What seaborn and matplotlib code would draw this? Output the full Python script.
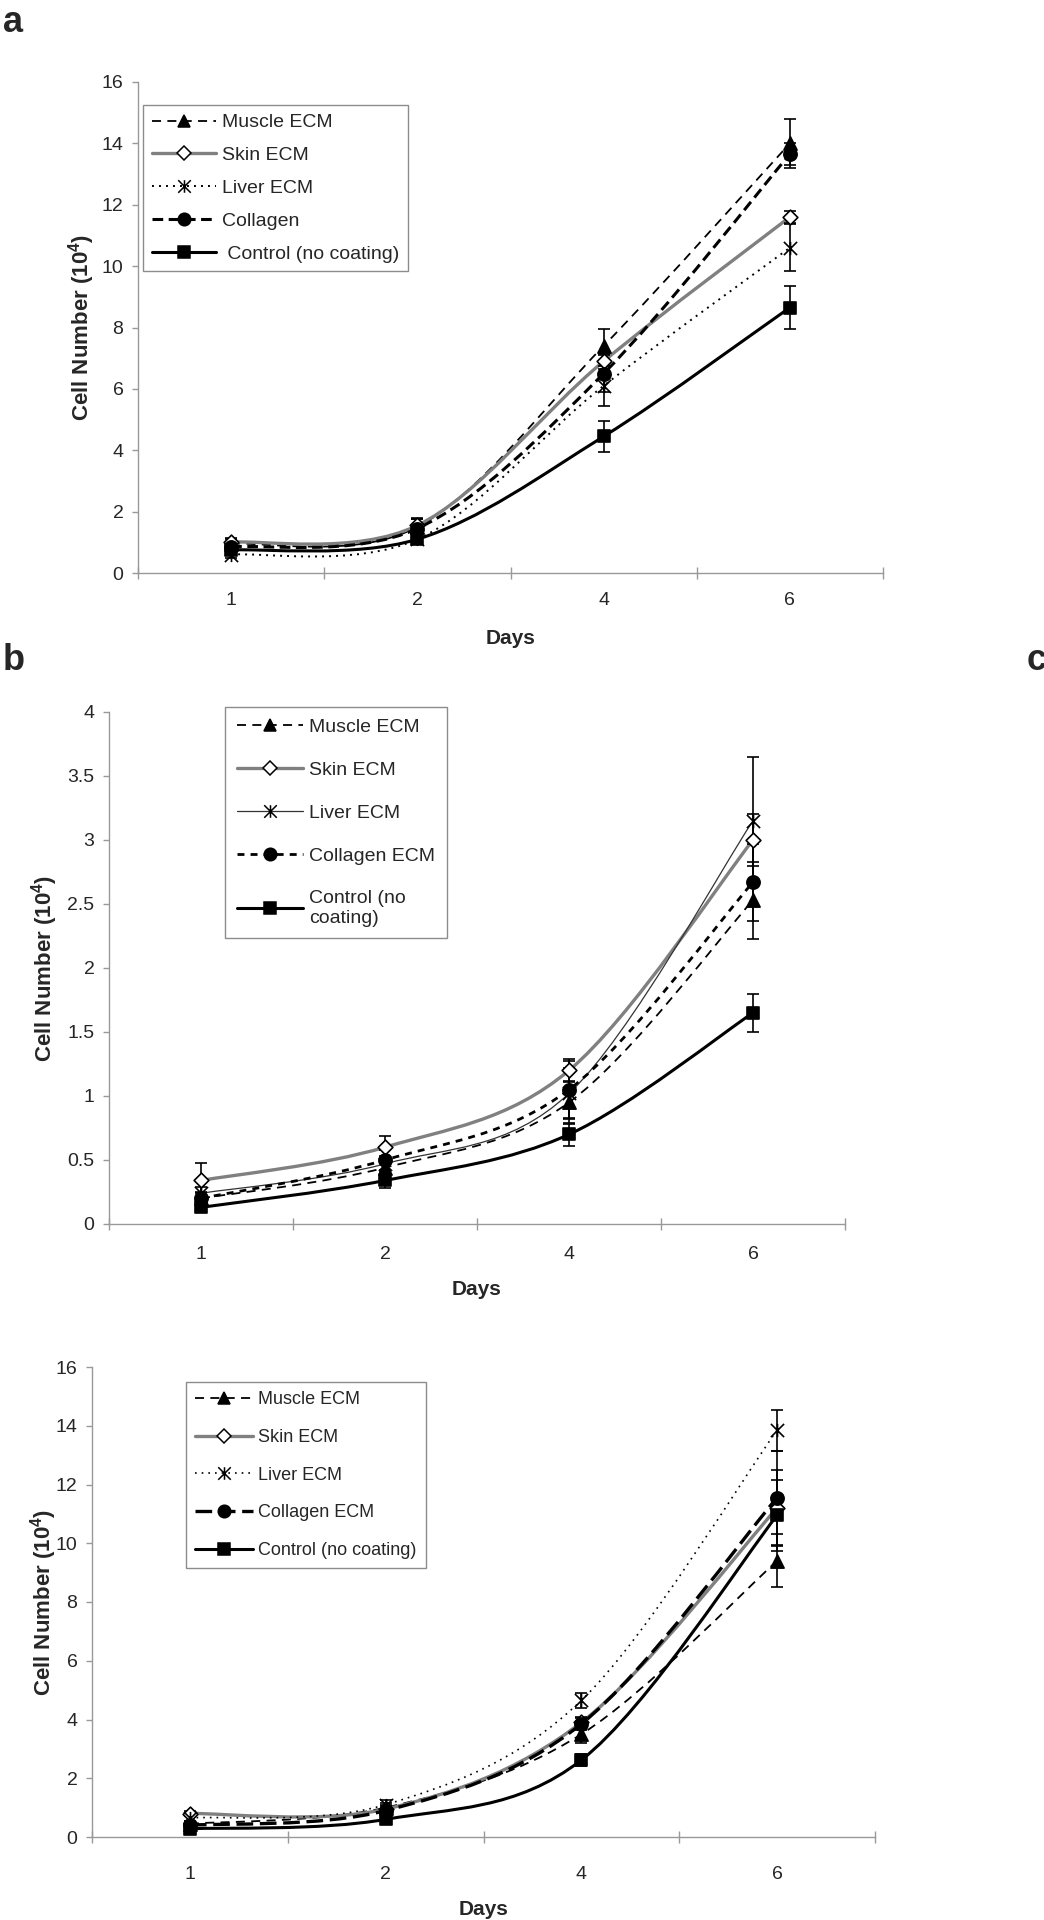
import numpy as np
import pandas as pd
import seaborn as sns
import matplotlib.pyplot as plt
from matplotlib.path import Path
from matplotlib.patches import PathPatch
from matplotlib.lines import Line2D

days = ["1", "2", "4", "6"]

# panel a
a_labels = ["Muscle ECM", "Skin ECM", "Liver ECM", "Collagen", " Control (no coating)"]
a_muscle = [0.95, 1.5, 7.4, 14.0]
a_skin = [1.0, 1.55, 6.9, 11.6]
a_liver = [0.6, 1.1, 6.1, 10.6]
a_collagen = [0.85, 1.45, 6.5, 13.65]
a_control = [0.75, 1.1, 4.45, 8.65]
a_muscle_sd = [0.2, 0.3, 0.55, 0.8]
a_skin_sd = [0.1, 0.2, 0.25, 0.2]
a_liver_sd = [0.1, 0.15, 0.65, 0.77]
a_collagen_sd = [0.15, 0.3, 0.6, 0.36]
a_control_sd = [0.1, 0.15, 0.5, 0.7]

# panel b
b_labels = ["Muscle ECM", "Skin ECM", "Liver ECM", "Collagen ECM", "Control (no\ncoating)"]
b_muscle = [0.2, 0.44, 0.95, 2.53]
b_skin = [0.34, 0.6, 1.2, 3.0]
b_liver = [0.24, 0.47, 1.02, 3.15]
b_collagen = [0.2, 0.5, 1.05, 2.67]
b_control = [0.13, 0.34, 0.7, 1.65]
b_muscle_sd = [0.05, 0.06, 0.17, 0.3]
b_skin_sd = [0.14, 0.09, 0.09, 0.2]
b_liver_sd = [0.05, 0.06, 0.2, 0.5]
b_collagen_sd = [0.04, 0.08, 0.22, 0.3]
b_control_sd = [0.03, 0.06, 0.09, 0.15]

# panel c
c_labels = ["Muscle ECM", "Skin ECM", "Liver ECM", "Collagen ECM", "Control (no coating)"]
c_muscle = [0.45, 1.0, 3.5, 9.4]
c_skin = [0.8, 0.95, 3.9, 11.2]
c_liver = [0.65, 1.1, 4.65, 13.85]
c_collagen = [0.4, 0.9, 3.85, 11.55]
c_control = [0.28, 0.6, 2.62, 10.95]
c_muscle_sd = [0.1, 0.15, 0.3, 0.9]
c_skin_sd = [0.1, 0.15, 0.2, 1.3]
c_liver_sd = [0.1, 0.15, 0.25, 0.7]
c_collagen_sd = [0.1, 0.15, 0.2, 1.6]
c_control_sd = [0.05, 0.1, 0.2, 1.2]

GRAY = "#808080"
AXGRAY = "#999999"
STAR = Path([(-1, -1), (1, 1), (-1, 1), (1, -1), (0, -1), (0, 1)],
            [Path.MOVETO, Path.LINETO, Path.MOVETO, Path.LINETO, Path.MOVETO, Path.LINETO])


def make_table(labels, values, sds):
    rows = []
    for lab, vals, sd in zip(labels, values, sds):
        for i, (d, v, e) in enumerate(zip(days, vals, sd)):
            rows.append({"series": lab, "day": d, "pos": i, "value": v, "sd": e})
    return pd.DataFrame(rows)


def smooth_path(x, y):
    # Excel-style smoothed line (Bezier through the data points)
    pts = np.column_stack([x, y]).astype(float)
    n = len(pts)
    verts, codes = [pts[0]], [Path.MOVETO]
    for i in range(n - 1):
        p0 = pts[i - 1] if i > 0 else pts[i]
        p1, p2 = pts[i], pts[i + 1]
        p3 = pts[i + 2] if i + 2 < n else pts[i + 1]
        verts += [p1 + (p2 - p0) / 6, p2 - (p3 - p1) / 6, p2]
        codes += [Path.CURVE4] * 3
    return Path(verts, codes)


def st(color, lw, ls, marker, ms, fc):
    return dict(color=color, lw=lw, ls=ls, marker=marker, ms=ms, fc=fc)


styles_a = [
    st("black", 1.3, (0, (5, 3.5)), "^", 9.5, "black"),
    st(GRAY, 2.4, "-", "D", 7.5, "white"),
    st("black", 1.4, (0, (1, 2.6)), STAR, 9.5, "black"),
    st("black", 2.2, (0, (3.5, 1.8)), "o", 9.5, "black"),
    st("black", 2.2, "-", "s", 8.5, "black"),
]
styles_b = [
    st("black", 1.3, (0, (5, 3.5)), "^", 9.5, "black"),
    st(GRAY, 2.4, "-", "D", 7.5, "white"),
    st("#333333", 0.9, "-", STAR, 9.5, "black"),
    st("black", 2.0, (0, (2.5, 2.2)), "o", 9.5, "black"),
    st("black", 2.2, "-", "s", 8.5, "black"),
]
styles_c = [
    st("black", 1.3, (0, (5, 3.5)), "^", 9.5, "black"),
    st(GRAY, 2.4, "-", "D", 7.5, "white"),
    st("black", 1.2, (0, (1, 3)), STAR, 9.5, "black"),
    st("black", 2.4, (0, (5, 2)), "o", 9.5, "black"),
    st("black", 2.2, "-", "s", 8.5, "black"),
]


def draw_panel(ax, df, labels, styles, ymax, ystep, leg_anchor, leg_kw, ylab_x,
               tick_pad, xlab_pad):
    handles = []
    for lab, s in zip(labels, styles):
        sub = df[df["series"] == lab]
        patch = PathPatch(smooth_path(sub["pos"], sub["value"]), fill=False,
                          edgecolor=s["color"], lw=s["lw"], ls=s["ls"], zorder=2,
                          capstyle="butt")
        ax.add_patch(patch)
        ax.errorbar(sub["pos"], sub["value"], yerr=sub["sd"], fmt="none",
                    ecolor="black", elinewidth=1.2, capsize=4.5, capthick=1.2, zorder=3)
        sns.scatterplot(x=sub["pos"].to_numpy(), y=sub["value"].to_numpy(), ax=ax,
                        marker=s["marker"], s=s["ms"] ** 2, color=s["fc"],
                        edgecolor="black", linewidth=1.2, zorder=4, legend=False)
        handles.append(Line2D([], [], color=s["color"], lw=s["lw"], ls=s["ls"],
                              marker=s["marker"], ms=s["ms"] * 0.95, mfc=s["fc"],
                              mec="black", mew=1.1))

    ax.set_xlim(-0.5, 3.5)
    ax.set_xticks(range(len(days)))
    ax.set_xticklabels(days)
    ax.set_xticks(np.arange(-0.5, 3.6, 1), minor=True)
    ax.set_ylim(0, ymax)
    ticks = np.arange(0, ymax + ystep / 2, ystep)
    ax.set_yticks(ticks)
    ax.set_yticklabels([f"{t:g}" for t in ticks])
    ax.tick_params(axis="x", which="major", length=0, pad=tick_pad, labelsize=14)
    ax.tick_params(axis="x", which="minor", length=8, direction="inout",
                   color=AXGRAY, width=1)
    ax.tick_params(axis="y", which="major", length=4.5, direction="out",
                   color=AXGRAY, width=1, pad=6, labelsize=14)
    for side in ["top", "right"]:
        ax.spines[side].set_visible(False)
    for side in ["left", "bottom"]:
        ax.spines[side].set_color(AXGRAY)
        ax.spines[side].set_linewidth(1)

    ax.set_xlabel("Days", fontsize=15, fontweight="bold", labelpad=xlab_pad)
    ax.set_ylabel(r"Cell Number (10$^{\mathbf{4}}$)", fontsize=16, fontweight="bold")
    ax.yaxis.set_label_coords(ylab_x, 0.5)

    leg = ax.legend(handles, labels, loc="upper left", bbox_to_anchor=leg_anchor,
                    borderaxespad=0, fancybox=False, framealpha=1,
                    edgecolor="#8c8c8c", **leg_kw)
    leg.get_frame().set_linewidth(1)


sns.set_theme(style="ticks")
plt.rcParams["font.family"] = ["Liberation Sans", "DejaVu Sans"]
plt.rcParams["mathtext.fontset"] = "custom"
plt.rcParams["mathtext.rm"] = "Liberation Sans"
plt.rcParams["mathtext.bf"] = "Liberation Sans:bold"

fig = plt.figure(figsize=(10.44, 19.2), dpi=100)
ax_a = fig.add_axes([138 / 1044, 1 - 573 / 1920, 745 / 1044, 491 / 1920])
ax_b = fig.add_axes([109 / 1044, 1 - 1224 / 1920, 736 / 1044, 512 / 1920])
ax_c = fig.add_axes([92 / 1044, 1 - 1837 / 1920, 783 / 1044, 470 / 1920])

df_a = make_table(a_labels, [a_muscle, a_skin, a_liver, a_collagen, a_control],
                  [a_muscle_sd, a_skin_sd, a_liver_sd, a_collagen_sd, a_control_sd])
df_b = make_table(b_labels, [b_muscle, b_skin, b_liver, b_collagen, b_control],
                  [b_muscle_sd, b_skin_sd, b_liver_sd, b_collagen_sd, b_control_sd])
df_c = make_table(c_labels, [c_muscle, c_skin, c_liver, c_collagen, c_control],
                  [c_muscle_sd, c_skin_sd, c_liver_sd, c_collagen_sd, c_control_sd])

draw_panel(ax_a, df_a, a_labels, styles_a, 16, 2, (0.0067, 0.953),
           dict(fontsize=14, handlelength=3.3, handletextpad=0.3, labelspacing=0.78,
                borderpad=0.45), -0.055, 14, 14)
draw_panel(ax_b, df_b, b_labels, styles_b, 4, 0.5, (0.158, 1.01),
           dict(fontsize=14, handlelength=3.4, handletextpad=0.3, labelspacing=1.3,
                borderpad=0.6), -0.0665, 16, 12)
draw_panel(ax_c, df_c, c_labels, styles_c, 16, 2, (0.12, 0.968),
           dict(fontsize=13, handlelength=3.2, handletextpad=0.3, labelspacing=1.15,
                borderpad=0.5), -0.042, 21, 12)

panel_font = dict(fontsize=26, fontweight="bold",
                  family=["Liberation Sans Narrow", "Liberation Sans", "DejaVu Sans"])
fig.text(3 / 1044, 1 - 32 / 1920, "a", ha="left", va="baseline", **panel_font)
fig.text(3 / 1044, 1 - 670 / 1920, "b", ha="left", va="baseline", **panel_font)
fig.text(1027 / 1044, 1 - 670 / 1920, "c", ha="left", va="baseline", **panel_font)

fig.savefig("out.png", dpi=100)
